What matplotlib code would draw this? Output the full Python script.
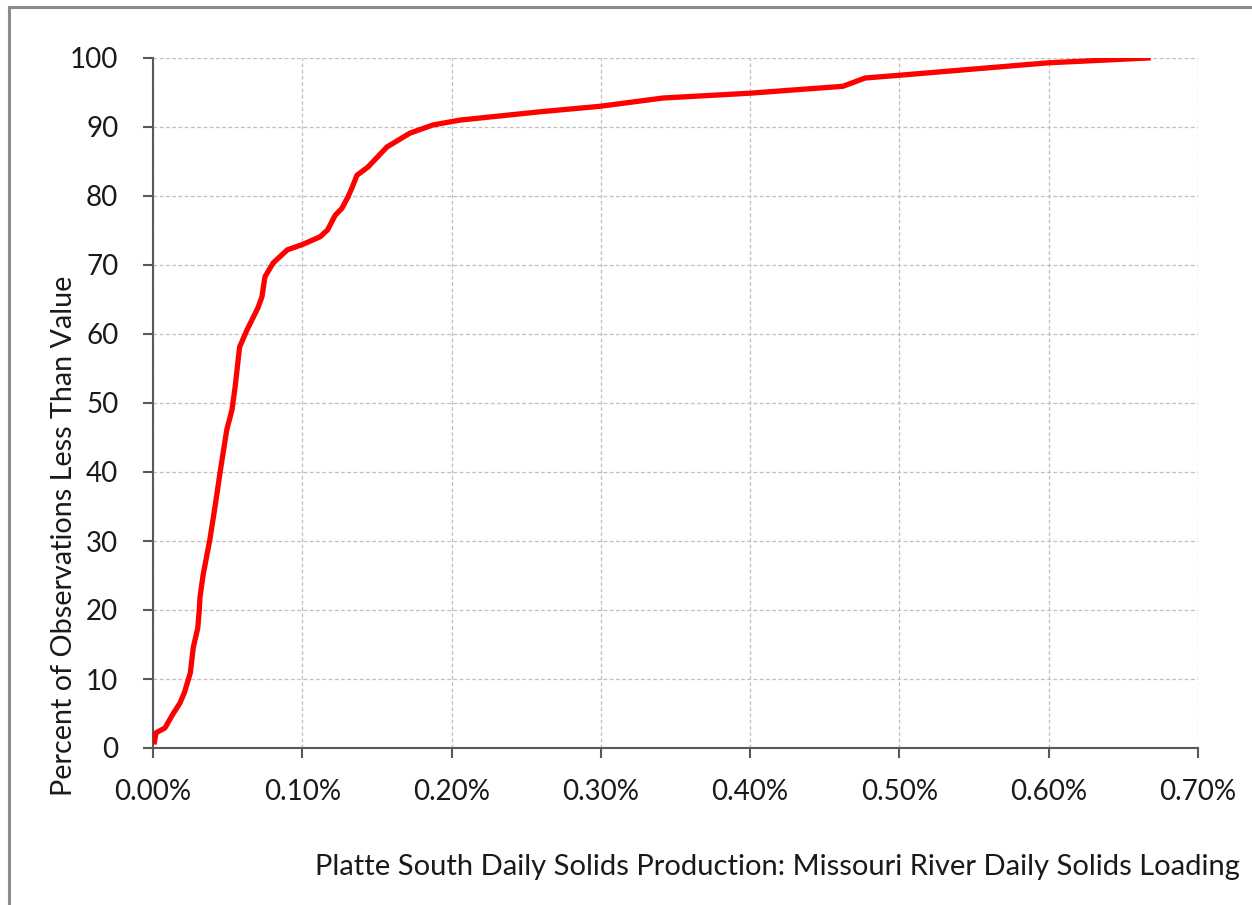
import matplotlib
matplotlib.use("Agg")
import matplotlib.pyplot as plt
from matplotlib.lines import Line2D
from matplotlib.ticker import FuncFormatter, MultipleLocator

# ratio of Platte South daily solids production to Missouri River loading (%)
ratio_pct = [0.001, 0.002, 0.008, 0.013, 0.018, 0.021, 0.025, 0.027, 0.030, 0.031,
             0.0315, 0.0335, 0.038, 0.0415, 0.0449, 0.0494, 0.0529, 0.055, 0.058, 0.063,
             0.0703, 0.073, 0.075, 0.0805, 0.090, 0.1005, 0.112, 0.117, 0.122, 0.1265,
             0.1307, 0.1335, 0.1366, 0.144, 0.1567, 0.172, 0.1876, 0.2056, 0.259, 0.2994,
             0.3416, 0.400, 0.4622, 0.477, 0.500, 0.5995, 0.6665]
# cumulative percent of observations less than value
pct_less = [0.9, 2.2, 2.9, 4.8, 6.5, 8.0, 10.9, 14.6, 17.4, 20.0,
            21.9, 25.0, 30.1, 34.9, 39.9, 46.1, 49.0, 52.3, 58.1, 60.6,
            63.8, 65.4, 68.3, 70.3, 72.2, 73.0, 74.1, 75.1, 77.2, 78.2,
            79.9, 81.3, 83.0, 84.2, 87.1, 89.1, 90.3, 91.0, 92.2, 93.0,
            94.2, 94.9, 95.9, 97.1, 97.5, 99.3, 100.0]

plt.rcParams['font.family'] = ['Lato', 'DejaVu Sans']

fig = plt.figure(figsize=(12.52, 9.05), dpi=100)
ax = fig.add_axes([153/1252, 1-748/905, (1198-153)/1252, (748-58)/905])

ax.plot(ratio_pct, pct_less, color='#FF0000', lw=3.8, solid_joinstyle='round', zorder=3)

ax.set_xlim(0, 0.7)
ax.set_ylim(0, 100)
ax.xaxis.set_major_locator(MultipleLocator(0.1))
ax.yaxis.set_major_locator(MultipleLocator(10))
ax.xaxis.set_major_formatter(FuncFormatter(lambda v, p: f"{v:.2f}%"))

ax.grid(True, color='#BFBFBF', linestyle=(0, (3, 2)), lw=0.9)
ax.set_axisbelow(True)
for s in ['top', 'right']:
    ax.spines[s].set_visible(False)
for s in ['left', 'bottom']:
    ax.spines[s].set_color('#595959')
    ax.spines[s].set_linewidth(1.5)
ax.tick_params(axis='both', direction='out', length=7, width=1.5, color='#595959',
               labelsize=20, labelcolor='#1a1a1a')
ax.tick_params(axis='y', pad=18)
ax.tick_params(axis='x', pad=15)

fig.text(64/1252, 1-536/905, 'Percent of Observations Less Than Value', rotation=90,
         ha='center', va='center', fontsize=20.7, color='#1a1a1a')
fig.text(1240/1252, 1-867/905,
         'Platte South Daily Solids Production: Missouri River Daily Solids Loading',
         ha='right', va='center', fontsize=21, color='#1a1a1a')

# outer chart frame (left and top edges)
fig.add_artist(Line2D([9/1252, 9/1252], [0, 1-7/905], transform=fig.transFigure,
                      color='#8c8c8c', lw=2.2))
fig.add_artist(Line2D([9/1252, 1], [1-7/905, 1-7/905], transform=fig.transFigure,
                      color='#8c8c8c', lw=2.2))

fig.savefig('out.png', dpi=100)
